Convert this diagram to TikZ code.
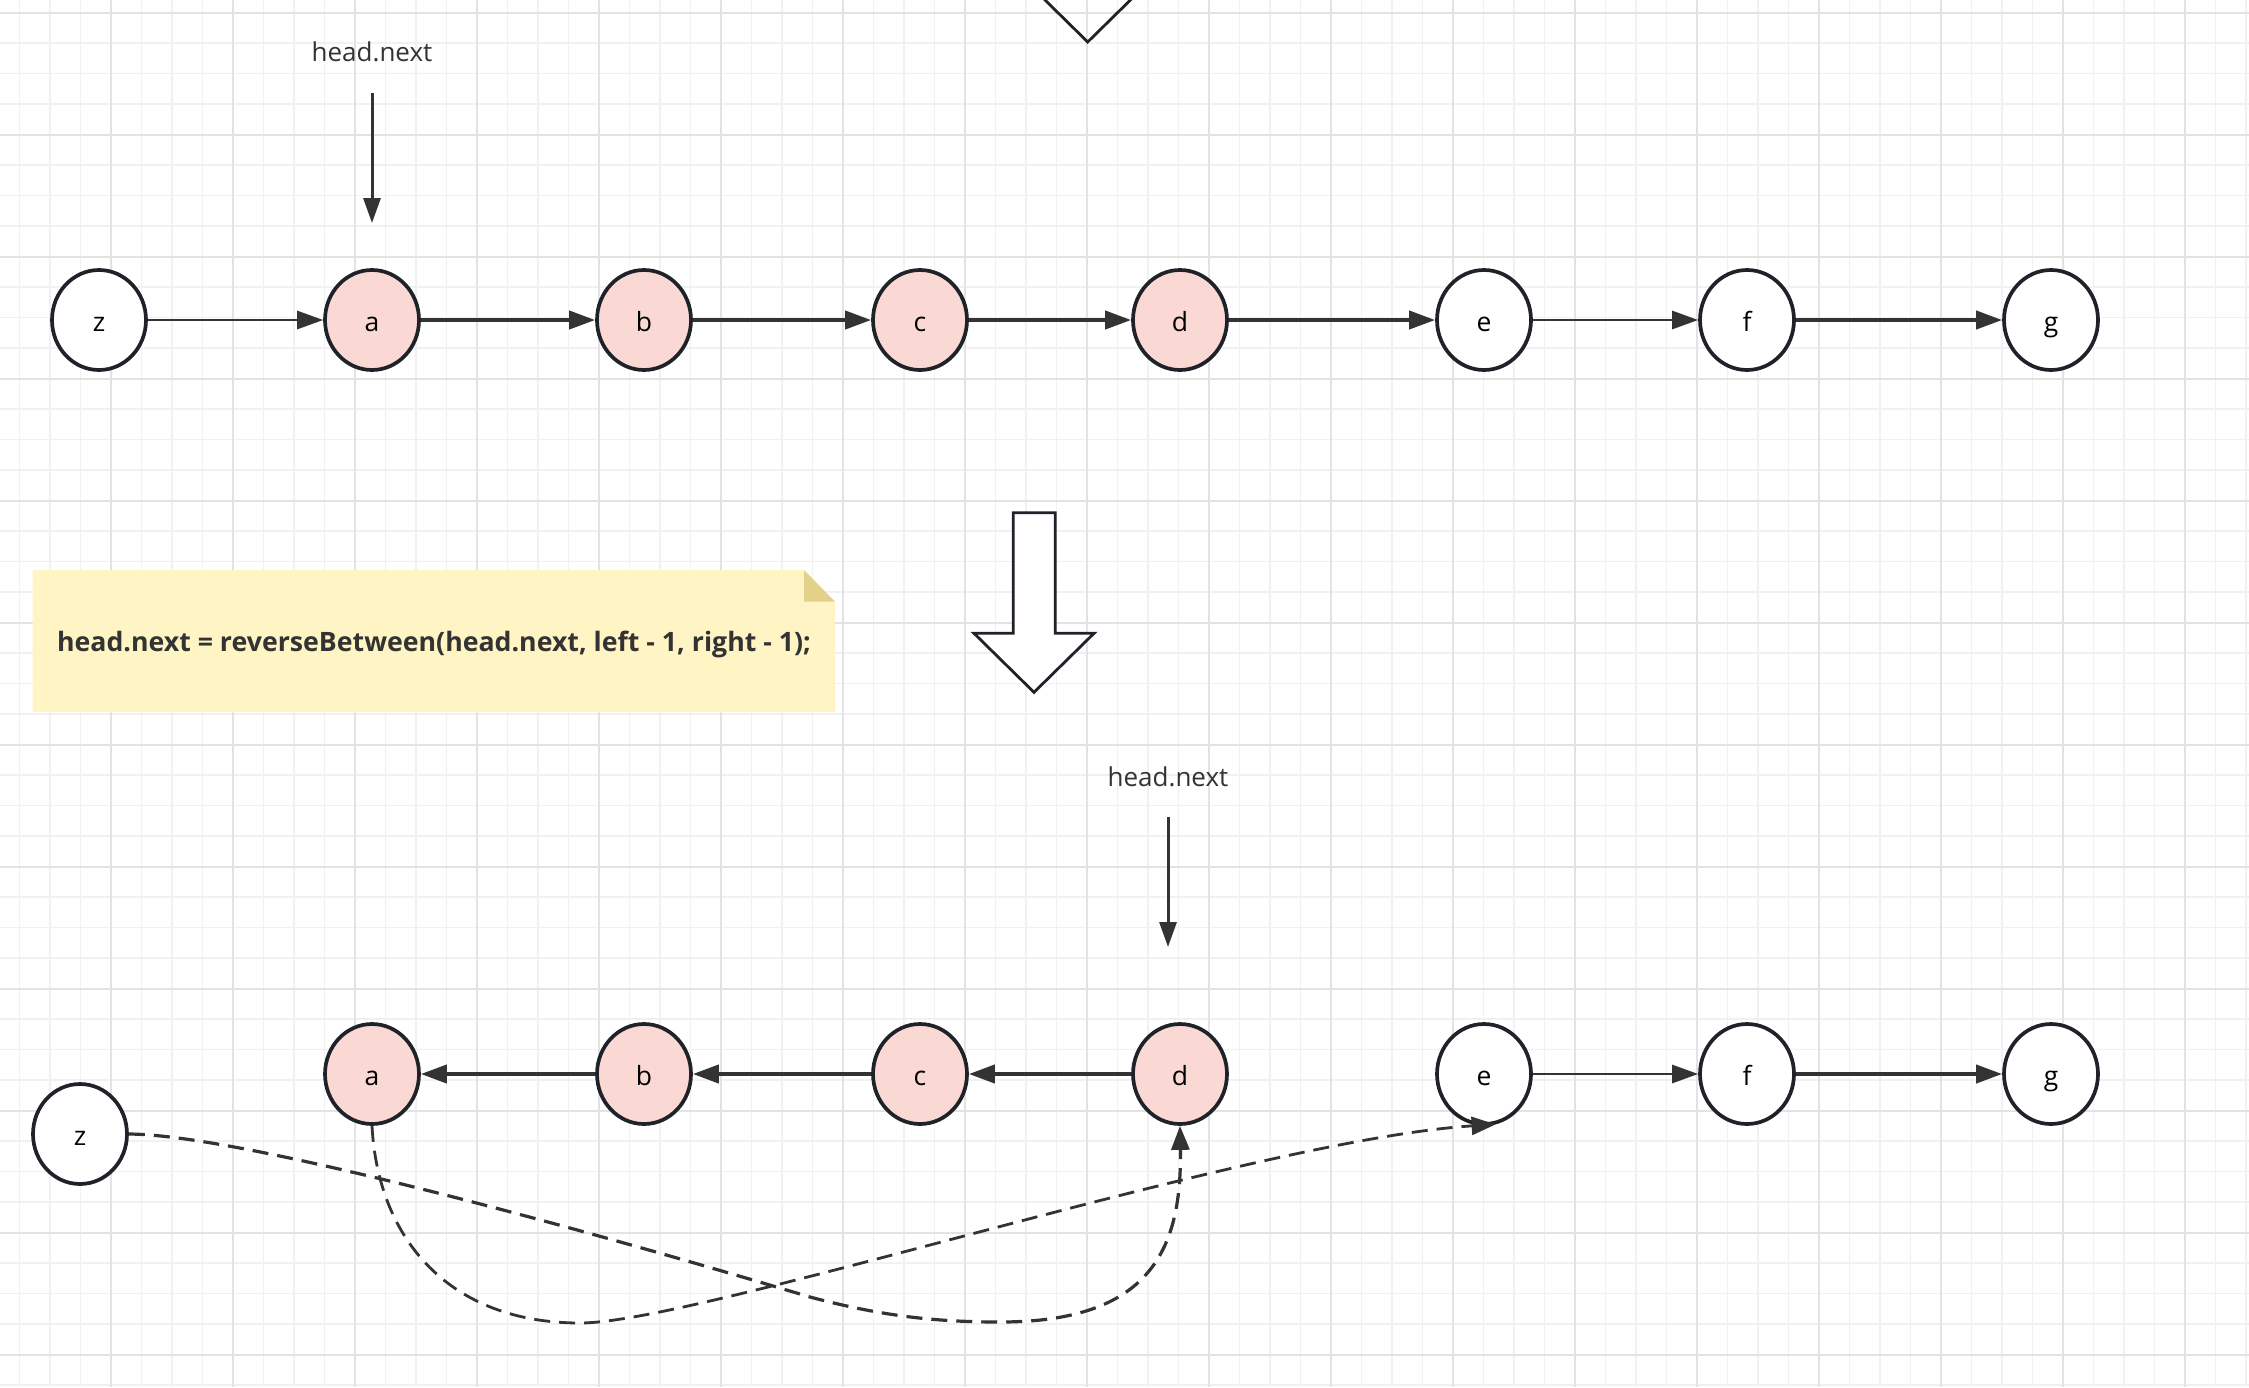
\documentclass[tikz,border=0pt]{standalone}
\usepackage{fontspec}
\setmainfont{Open Sans}
\usetikzlibrary{shapes.geometric,arrows.meta}
\definecolor{strk}{HTML}{1F2329}
\definecolor{pinkf}{HTML}{FAD9D5}
\definecolor{arr}{HTML}{333333}
\definecolor{gmin}{HTML}{F1F1F1}
\definecolor{gmaj}{HTML}{E3E3E3}
\definecolor{notef}{HTML}{FFF4C3}
\definecolor{foldf}{HTML}{E3D18A}
\definecolor{txt}{HTML}{333333}
\begin{document}
\begin{tikzpicture}[x=1pt,y=-1pt,
  nd/.style={ellipse, draw=strk, line width=3.7pt, minimum width=94pt, minimum height=100pt,
    inner sep=0pt, fill=white, font=\fontsize{26.5}{30}\selectfont, text=black,
    text height=22pt, text depth=0pt},
  pk/.style={nd, fill=pinkf},
  edge/.style={draw=arr, line width=4pt, -{Triangle[length=26pt,width=18pt]}},
  thinedge/.style={edge, line width=2.8pt},
  ptr/.style={draw=arr, line width=3pt, -{Triangle[length=25pt,width=17pt]}},
  dsh/.style={draw=arr, line width=3.2pt, dash pattern=on 16pt off 9pt, -{Triangle[length=24pt,width=18pt]}},
  lbl/.style={font=\fontsize{26}{30}\selectfont, text=txt, anchor=base, inner sep=0pt},
  minorg/.style={draw=gmin, line width=1.5pt},
  majorg/.style={draw=gmaj, line width=2pt},
  bigarrow/.style={draw=strk, line width=2.8pt, fill=white, line join=miter},
]
\useasboundingbox (0,0) rectangle (2249,1387);
\clip (0,0) rectangle (2249,1387);
\fill[white] (0,0) rectangle (2249,1387);
% grid
\foreach \i in {0,...,75} { \draw[minorg] ({-11+30.5*\i},0) -- ({-11+30.5*\i},1387); }
\foreach \j in {0,...,46} { \draw[minorg] (0,{12.7+30.5*\j}) -- (2249,{12.7+30.5*\j}); }
\foreach \i in {0,...,19} { \draw[majorg] ({-11+122*\i},0) -- ({-11+122*\i},1387); }
\foreach \j in {0,...,11} { \draw[majorg] (0,{12.7+122*\j}) -- (2249,{12.7+122*\j}); }

% partial big arrow at top
\draw[bigarrow, fill=none] (1027.7,-17) -- (1087.7,42) -- (1147.7,-17);

% top row
\node[nd] (z1) at (99,320) {z};
\node[pk] (a1) at (372,320) {a};
\node[pk] (b1) at (644,320) {b};
\node[pk] (c1) at (920,320) {c};
\node[pk] (d1) at (1180,320) {d};
\node[nd] (e1) at (1484,320) {e};
\node[nd] (f1) at (1747,320) {f};
\node[nd] (g1) at (2051,320) {g};
\draw[thinedge] (z1) -- (a1);
\draw[edge] (a1) -- (b1);
\draw[edge] (b1) -- (c1);
\draw[edge] (c1) -- (d1);
\draw[edge] (d1) -- (e1);
\draw[thinedge] (e1) -- (f1);
\draw[edge] (f1) -- (g1);

\node[lbl] (hn1) at (372,61) {head.next};
\coordinate (p1s) at (372,93);
\coordinate (p1e) at (372,223);
\draw[ptr] (p1s) -- (p1e);

% note
\fill[notef] (32.5,570) -- (804,570) -- (835,601.7) -- (835,712) -- (32.5,712) -- cycle;
\fill[foldf] (804,570) -- (835,601.7) -- (804,601.7) -- cycle;
\node[lbl, font=\fontsize{26.7}{30}\selectfont\bfseries] (note) at (434,651) {head.next = reverseBetween(head.next, left - 1, right - 1);};

% big arrow
\draw[bigarrow] (1013.3,512.7) -- (1055.3,512.7) -- (1055.3,633.3) -- (1094,633.3) -- (1034,692.3) -- (974,633.3) -- (1013.3,633.3) -- cycle;

% bottom row
\node[lbl] (hn2) at (1168,786) {head.next};
\coordinate (p2s) at (1168,817);
\coordinate (p2e) at (1168,947);
\draw[ptr] (p2s) -- (p2e);

\node[nd] (z2) at (80,1134) {z};
\node[pk] (a2) at (372,1074) {a};
\node[pk] (b2) at (644,1074) {b};
\node[pk] (c2) at (920,1074) {c};
\node[pk] (d2) at (1180,1074) {d};
\node[nd] (e2) at (1484,1074) {e};
\node[nd] (f2) at (1747,1074) {f};
\node[nd] (g2) at (2051,1074) {g};
\draw[edge] (b2) -- (a2);
\draw[edge] (c2) -- (b2);
\draw[edge] (d2) -- (c2);
\draw[thinedge] (e2) -- (f2);
\draw[edge] (f2) -- (g2);

% dashed links
\draw[dsh] (z2.east) .. controls (250,1135) and (620,1240) .. (810,1297)
  .. controls (885,1317) and (940,1322) .. (1000,1322)
  .. controls (1150,1322) and (1182,1250) .. (d2.south);
\draw[dsh, line width=2.8pt] (a2.south) .. controls (378,1240) and (450,1323) .. (580,1323)
  .. controls (700,1323) and (1250,1140) .. (e2.-77);
\end{tikzpicture}
\end{document}
